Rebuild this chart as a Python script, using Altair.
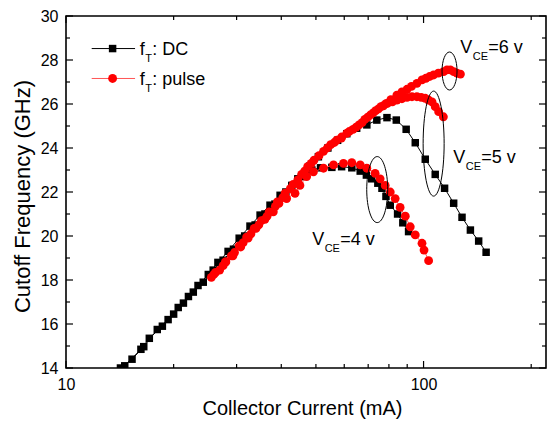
import altair as alt
import pandas as pd

FONT = "Liberation Sans"

# ---------------- data ----------------
# DC, V_CE = 4 V
dc4_I = [14.2, 15.3, 16.5, 18.0, 19.3, 20.6, 22.0, 23.4, 25.0, 26.6, 28.4, 30.5, 32.7, 34.9, 37.2, 39.7,
         42.8, 45.6, 48.7, 51.5, 55.4, 59.0, 63.0, 66.5, 69.2, 71.6, 74.5, 76.5, 78.5, 80.7, 84.6, 87.5, 90.8]
dc4_f = [14.0, 14.4, 14.97, 15.75, 16.2, 16.75, 17.25, 17.75, 18.25, 18.8, 19.3, 19.9, 20.45, 20.95, 21.4, 21.85,
         22.3, 22.7, 23.0, 23.1, 23.12, 23.15, 23.1, 22.95, 22.77, 22.6, 22.4, 22.17, 21.8, 21.4, 21.0, 20.6, 20.2]
# DC, V_CE = 5 V
dc5_I = [14.6, 16.2, 17.1, 18.6, 20.0, 21.3, 22.7, 24.2, 25.8, 27.5, 29.4, 31.6, 33.8, 36.0, 38.4, 41.2,
         44.5, 48.1, 50.8, 54.0, 57.5, 61.0, 65.0, 69.4, 74.0, 79.0, 83.9, 89.4, 94.8, 101.1, 107.8, 114.5,
         121.4, 128.1, 135.2, 142.6, 149.6]
dc5_f = [14.1, 14.85, 15.35, 15.9, 16.45, 16.95, 17.45, 17.9, 18.45, 18.9, 19.4, 20.0, 20.5, 21.0, 21.45, 22.0,
         22.6, 23.18, 23.6, 24.0, 24.35, 24.65, 24.9, 25.05, 25.27, 25.38, 25.27, 24.85, 24.24, 23.49, 22.8, 22.17,
         21.49, 20.85, 20.27, 19.77, 19.26]
# pulse, V_CE = 4 V
p4_I = [25.5, 26.9, 28.0, 29.3, 30.8, 32.3, 34.0, 36.0, 38.0, 39.4, 41.4, 43.7, 45.1, 47.1, 49.2, 52.5, 56.0,
        59.7, 63.0, 66.5, 69.4, 73.2, 75.6, 78.1, 80.7, 83.3, 86.0, 88.9, 91.8, 94.8, 99.0, 100.3, 103.3]
p4_f = [18.12, 18.45, 18.83, 19.1, 19.5, 19.9, 20.35, 20.76, 21.1, 21.48, 21.7, 21.94, 22.3, 22.7, 22.92, 23.08,
        23.23, 23.3, 23.33, 23.23, 23.08, 22.85, 22.6, 22.3, 22.0, 21.7, 21.3, 20.9, 20.42, 20.05, 19.67, 19.36, 18.88]
# pulse, V_CE = 5 V
p5_I = [26.2, 27.9, 29.6, 31.3, 32.9, 34.6, 36.5, 38.5, 40.4, 42.4, 44.5, 46.5, 48.5, 51.0, 53.8, 56.3, 58.9,
        62.0, 64.8, 67.3, 69.8, 72.3, 74.8, 77.2, 79.2, 81.8, 84.2, 87.0, 89.9, 92.8, 95.8, 98.5, 101.1, 103.3,
        105.6, 107.8, 110.2, 113.6]
p5_f = [18.35, 18.8, 19.25, 19.7, 20.1, 20.5, 20.9, 21.35, 21.75, 22.15, 22.55, 22.95, 23.3, 23.65, 24.0, 24.25,
        24.45, 24.75, 24.95, 25.15, 25.4, 25.6, 25.78, 25.92, 26.03, 26.1, 26.18, 26.24, 26.3, 26.33, 26.33, 26.3,
        26.26, 26.18, 26.1, 25.88, 25.65, 25.42]
# pulse, V_CE = 6 V
p6_I = [25.9, 27.5, 29.0, 30.5, 32.0, 33.6, 35.2, 37.0, 39.0, 41.0, 43.2, 45.6, 47.4, 49.4, 52.5, 55.0, 57.2,
        59.0, 61.0, 63.5, 66.0, 68.5, 71.0, 73.5, 76.0, 78.5, 81.0, 84.2, 87.0, 89.9, 92.5, 95.8, 99.0, 101.5,
        104.0, 106.7, 110.0, 113.8, 116.3, 118.8, 121.4, 124.0, 126.8]
p6_f = [18.25, 18.65, 19.1, 19.55, 19.95, 20.35, 20.7, 21.1, 21.55, 21.95, 22.35, 22.8, 23.15, 23.45, 23.85, 24.15,
        24.36, 24.5, 24.67, 24.85, 25.05, 25.3, 25.5, 25.7, 25.88, 26.02, 26.2, 26.4, 26.55, 26.67, 26.8, 26.94,
        27.1, 27.17, 27.25, 27.32, 27.4, 27.47, 27.55, 27.55, 27.47, 27.4, 27.36]

# axis ticks
x_major = [10, 100]
x_minor = [20, 30, 40, 50, 60, 70, 80, 90, 200]
y_major = [14, 16, 18, 20, 22, 24, 26, 28, 30]
y_minor = [15, 17, 19, 21, 23, 25, 27, 29]

# annotations (V_CE labels and ellipses)
ann_I = [126.7, 121.1, 48.8]
ann_f = [28.34, 23.3, 19.57]
ann_rest = ["=6 v", "=5 v", "=4 v"]
ell_I = [118.2, 106.7, 74.2]
ell_f = [27.5, 24.2, 22.11]

# legend
leg_name = ["DC", "pulse"]
leg_f = [28.52, 27.16]
leg_rest = [": DC", "\u00a0: pulse"]
leg_I1, leg_I2, leg_Isym, leg_Itext = 11.8, 15.6, 13.5, 16.07

# ---------------- chart ----------------
W, H = 480, 352


def frame(xs, ys, name):
    return pd.DataFrame({"I": xs, "f": ys, "sweep": name, "k": list(range(len(xs)))})


dc_df = pd.concat([frame(dc4_I, dc4_f, "DC4"), frame(dc5_I, dc5_f, "DC5")], ignore_index=True)
pl_df = pd.concat([frame(p4_I, p4_f, "P4"), frame(p5_I, p5_f, "P5"), frame(p6_I, p6_f, "P6")],
                  ignore_index=True)
ann_df = pd.DataFrame({"I": ann_I, "f": ann_f, "rest": ann_rest})
leg_df = pd.DataFrame({"name": leg_name, "f": leg_f, "rest": leg_rest,
                       "I1": [leg_I1] * 2, "I2": [leg_I2] * 2, "Is": [leg_Isym] * 2, "It": [leg_Itext] * 2})

xs = alt.Scale(type="log", domain=[10, 220], nice=False)
ys = alt.Scale(domain=[14, 30], nice=False, zero=False)

x_main = alt.Axis(orient="bottom", values=x_major, format="d", labelFlush=False, labelPadding=8,
                  labelFontSize=16, labelFont=FONT, labelColor="black", ticks=False, tickSize=0,
                  domain=False, grid=False, title="Collector Current (mA)", titleFont=FONT,
                  titleFontSize=20, titleFontWeight="normal", titleColor="black",
                  titleX=236, titleY=46, titleBaseline="alphabetic", titleAlign="center")
y_main = alt.Axis(orient="left", values=y_major, format="d", labelFlush=False, labelPadding=8,
                  labelFontSize=16, labelFont=FONT, labelColor="black", ticks=False, tickSize=0,
                  domain=False, grid=False, title="Cutoff Frequency (GHz)", titleFont=FONT,
                  titleFontSize=22, titleFontWeight="normal", titleColor="black",
                  titleX=-37, titleY=180, titleBaseline="alphabetic", titleAlign="center")


def X(axis, field="I"):
    return alt.X(f"{field}:Q", scale=xs, axis=axis)


def Y(axis, field="f"):
    return alt.Y(f"{field}:Q", scale=ys, axis=axis)


# inward tick marks on all four sides, drawn through the scales
tick_layers = []
for vals, length in ((x_major, 7), (x_minor, 4)):
    d = pd.DataFrame({"I": vals})
    for y0, y1 in ((H, H - length), (0, length)):
        tick_layers.append(alt.Chart(d).mark_rule(color="black", strokeWidth=1.2).encode(
            x=X(None), y=alt.value(y0), y2=alt.value(y1)))
for vals, length in ((y_major, 7), (y_minor, 4)):
    d = pd.DataFrame({"f": vals})
    for x0, x1 in ((0, length), (W, W - length)):
        tick_layers.append(alt.Chart(d).mark_rule(color="black", strokeWidth=1.2).encode(
            y=Y(None), x=alt.value(x0), x2=alt.value(x1)))

dc_line = alt.Chart(dc_df).mark_line(color="black", strokeWidth=1, clip=True).encode(
    x=X(x_main), y=Y(y_main), detail="sweep:N", order="k:Q")
dc_pts = alt.Chart(dc_df).mark_square(color="black", size=56, opacity=1, clip=True).encode(
    x=X(None), y=Y(None))
pl_line = alt.Chart(pl_df).mark_line(color="#ff5555", strokeWidth=1, clip=True).encode(
    x=X(None), y=Y(None), detail="sweep:N", order="k:Q")
pl_pts = alt.Chart(pl_df).mark_circle(color="#ff0000", size=78, opacity=1, clip=True).encode(
    x=X(None), y=Y(None))


def ellipse_path(a):
    k = 0.5523
    return (f"M0,-1C{a*k:.3f},-1,{a:.3f},{-k:.3f},{a:.3f},0"
            f"C{a:.3f},{k:.3f},{a*k:.3f},1,0,1"
            f"C{-a*k:.3f},1,{-a:.3f},{k:.3f},{-a:.3f},0"
            f"C{-a:.3f},{-k:.3f},{-a*k:.3f},-1,0,-1Z")


ell_style = [(15, 38), (21, 105), (21, 66)]  # (width px, height px)
ell_layers = []
for i, (w, h) in enumerate(ell_style):
    d = pd.DataFrame({"I": [ell_I[i]], "f": [ell_f[i]]})
    ell_layers.append(
        alt.Chart(d).mark_point(shape=ellipse_path(w / h), size=h * h, filled=False, stroke="black",
                                strokeWidth=1, opacity=1).encode(x=X(None), y=Y(None)))

txt = dict(font=FONT, color="black", align="left", baseline="alphabetic")
ann_V = alt.Chart(ann_df).mark_text(text="V", fontSize=18, **txt).encode(x=X(None), y=Y(None))
ann_CE = alt.Chart(ann_df).mark_text(text="CE", fontSize=11, dx=12.5, dy=7, **txt).encode(
    x=X(None), y=Y(None))
ann_R = alt.Chart(ann_df).mark_text(fontSize=18, dx=28, **txt).encode(
    x=X(None), y=Y(None), text="rest:N")

leg_rule = alt.Chart(leg_df).mark_rule(strokeWidth=1).encode(
    x=X(None, "I1"), x2="I2:Q", y=Y(None),
    color=alt.Color("name:N", scale=alt.Scale(domain=leg_name, range=["black", "#ff5555"]), legend=None))
leg_sq = alt.Chart(leg_df[leg_df["name"] == "DC"]).mark_square(color="black", size=56, opacity=1).encode(
    x=X(None, "Is"), y=Y(None))
leg_ci = alt.Chart(leg_df[leg_df["name"] == "pulse"]).mark_circle(color="#ff0000", size=78, opacity=1).encode(
    x=X(None, "Is"), y=Y(None))
leg_f_t = alt.Chart(leg_df).mark_text(text="f", fontSize=18, dy=6.3, **txt).encode(x=X(None, "It"), y=Y(None))
leg_T_t = alt.Chart(leg_df).mark_text(text="T", fontSize=11, dx=5.5, dy=13.3, **txt).encode(
    x=X(None, "It"), y=Y(None))
leg_r_t = alt.Chart(leg_df).mark_text(fontSize=18, dx=12.5, dy=6.3, **txt).encode(
    x=X(None, "It"), y=Y(None), text="rest:N")

chart = alt.layer(
    dc_line, *tick_layers, dc_pts, pl_line, pl_pts, *ell_layers, ann_V, ann_CE, ann_R,
    leg_rule, leg_sq, leg_ci, leg_f_t, leg_T_t, leg_r_t
).resolve_axis(x="independent", y="independent").properties(
    width=W, height=H,
    padding={"left": 66, "top": 16, "right": 3, "bottom": 60},
    autosize=alt.AutoSizeParams(type="none"),
    background="white",
).configure_view(stroke="black", strokeWidth=1.6).configure_axis(grid=False)

chart.save("out.html", embed_options={"renderer": "svg", "actions": False})
